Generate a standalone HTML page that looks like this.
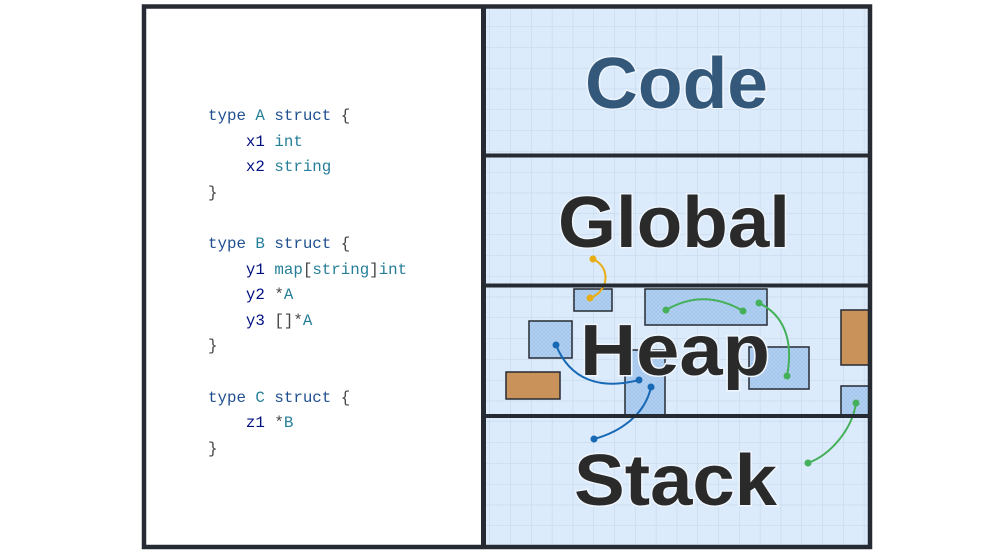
<!DOCTYPE html>
<html><head><meta charset="utf-8"><style>
html,body{margin:0;padding:0;background:#fff;}
body{width:1001px;height:560px;overflow:hidden;position:relative;}
pre{position:absolute;left:208px;top:104px;margin:0;font-family:"Liberation Mono",monospace;font-size:15.8px;line-height:25.6px;color:#444;}
.k{color:#1f4f8f}.t{color:#267f99}.f{color:#001080}
</style></head><body>
<svg width="1001" height="560" style="position:absolute;left:0;top:0">
<defs>
<pattern id="grid" x="490" y="6" width="20.8" height="20.8" patternUnits="userSpaceOnUse">
<rect width="20.8" height="20.8" fill="#dbebfc"/>
<path d="M20.8 0V20.8M0 20.8H20.8" stroke="#c3d4e6" stroke-width="1"/>
</pattern>
<pattern id="hatch" width="4" height="4" patternUnits="userSpaceOnUse">
<rect width="4" height="4" fill="#b4d3f3"/>
<path d="M0 0L4 4M4 0L0 4" stroke="#9fc2e8" stroke-width="0.7"/>
</pattern>
</defs>
<rect x="486" y="9" width="382" height="536" fill="url(#grid)"/>
<g stroke="#262b33" stroke-width="1.5">
<rect x="574" y="289" width="38" height="22" fill="url(#hatch)"/>
<rect x="645" y="289" width="122" height="36" fill="url(#hatch)"/>
<rect x="529" y="321" width="43" height="37" fill="url(#hatch)"/>
<rect x="625" y="350" width="40" height="66" fill="url(#hatch)"/>
<rect x="749" y="347" width="60" height="42" fill="url(#hatch)"/>
<rect x="841" y="386" width="29" height="30" fill="url(#hatch)"/>
<rect x="506" y="372" width="54" height="27" fill="#c8925a"/>
<rect x="841" y="310" width="29" height="55" fill="#c8925a"/>
</g>
<g font-family="Liberation Sans,sans-serif" font-weight="bold" font-size="72" stroke="#eef5fd" stroke-width="3" paint-order="stroke" lengthAdjust="spacingAndGlyphs">
<text x="585" y="108" fill="#33587a" textLength="183" lengthAdjust="spacingAndGlyphs">Code</text>
<text x="558" y="247" fill="#2a2a2a" textLength="232" lengthAdjust="spacingAndGlyphs">Global</text>
<text x="580" y="375" fill="#2a2a2a" textLength="190" lengthAdjust="spacingAndGlyphs">Heap</text>
<text x="574" y="505" fill="#2a2a2a" textLength="203" lengthAdjust="spacingAndGlyphs">Stack</text>
</g>
<g fill="none" stroke-width="2">
<path d="M593 259C612 268 608 292 590 298" stroke="#e8ad14"/>
<path d="M666 310Q704 288 743 311" stroke="#45b05a"/>
<path d="M759 303C790 318 792 350 787 376" stroke="#45b05a"/>
<path d="M856 403C852 430 830 455 808 463" stroke="#45b05a"/>
<path d="M556 345C570 380 600 390 639 380" stroke="#1768b5"/>
<path d="M651 387C645 415 620 432 594 439" stroke="#1768b5"/>
</g>
<g>
<circle cx="593" cy="259" r="3.5" fill="#e8ad14"/><circle cx="590" cy="298" r="3.5" fill="#e8ad14"/>
<circle cx="666" cy="310" r="3.5" fill="#45b05a"/><circle cx="743" cy="311" r="3.5" fill="#45b05a"/>
<circle cx="759" cy="303" r="3.5" fill="#45b05a"/><circle cx="787" cy="376" r="3.5" fill="#45b05a"/>
<circle cx="856" cy="403" r="3.5" fill="#45b05a"/><circle cx="808" cy="463" r="3.5" fill="#45b05a"/>
<circle cx="556" cy="345" r="3.5" fill="#1768b5"/><circle cx="639" cy="380" r="3.5" fill="#1768b5"/>
<circle cx="651" cy="387" r="3.5" fill="#1768b5"/><circle cx="594" cy="439" r="3.5" fill="#1768b5"/>
</g>
<g stroke="#262b33" fill="none">
<rect x="144" y="6.5" width="726" height="540.5" stroke-width="4.5"/>
<line x1="483.5" y1="6" x2="483.5" y2="548" stroke-width="5"/>
<line x1="484" y1="155.5" x2="870" y2="155.5" stroke-width="4"/>
<line x1="484" y1="285.5" x2="870" y2="285.5" stroke-width="4"/>
<line x1="484" y1="416" x2="870" y2="416" stroke-width="4"/>
</g>
</svg>
<pre><span class="k">type</span> <span class="t">A</span> <span class="k">struct</span> {
    <span class="f">x1</span> <span class="t">int</span>
    <span class="f">x2</span> <span class="t">string</span>
}

<span class="k">type</span> <span class="t">B</span> <span class="k">struct</span> {
    <span class="f">y1</span> <span class="t">map</span>[<span class="t">string</span>]<span class="t">int</span>
    <span class="f">y2</span> *<span class="t">A</span>
    <span class="f">y3</span> []*<span class="t">A</span>
}

<span class="k">type</span> <span class="t">C</span> <span class="k">struct</span> {
    <span class="f">z1</span> *<span class="t">B</span>
}</pre>
</body></html>
